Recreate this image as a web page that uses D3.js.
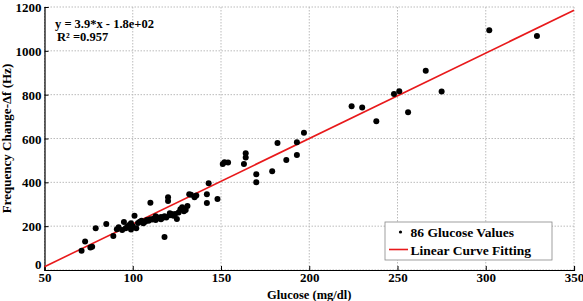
<!DOCTYPE html>
<html><head><meta charset="utf-8">
<script src="https://cdn.jsdelivr.net/npm/d3@7"></script>
<style>body{margin:0;background:#fff;}svg{display:block;}text{font-family:"Liberation Serif","Times New Roman",serif;font-weight:bold;}</style>
</head><body>
<svg id="c" width="583" height="301"></svg>
<script>
const glucose = [71,73,76,77,79,85,89,91,92,94,95,96,97,98,99,100,101,102,104,106,107,108,109,110,110,111,112,113,114,115,116,117,118,118,119,120,120,121,121,122,123,124,125,126,127,128,129,130,131,132,133,135,142,142,143,148,151,152,154,163,164,164,170,170,179,182,187,193,193,197,224,230,238,248,251,256,266,275,302,329,103,105,113,116,136,99];
const freq = [88,130,103,106,190,210,155,186,195,182,219,190,198,205,213,200,247,190,220,213,220,228,225,307,232,230,235,228,240,236,242,238,151,245,240,332,315,259,250,256,247,256,233,262,277,286,268,274,292,346,343,332,346,306,396,324,484,492,490,484,533,513,437,400,451,580,502,583,525,626,747,741,679,803,816,720,909,814,1094,1068,215,225,245,232,340,185];
const xTicks = [50,100,150,200,250,300,350];
const yTicks = [0,200,400,600,800,1000,1200];
const fitSlope = 3.9, fitIntercept = -180;
const eqText = "y = 3.9*x - 1.8e+02";
const r2Text = "R\u00B2 =0.957";
const legendLabels = ["86 Glucose Values","Linear Curve Fitting"];

const svg = d3.select("#c");
const L=44.5, R=574, T=7, B=270;
const x = d3.scaleLinear().domain([50,350]).range([L,R]);
const y = d3.scaleLinear().domain([0,1200]).range([B,T]);

// grid
const g = svg.append("g");
g.selectAll(".vx").data(xTicks).enter().append("line")
  .attr("x1",d=>x(d)).attr("x2",d=>x(d)).attr("y1",T).attr("y2",B)
  .attr("stroke","#bbb").attr("stroke-width",1).attr("stroke-dasharray","1.5,1.5");
g.selectAll(".hy").data(yTicks).enter().append("line")
  .attr("y1",d=>y(d)).attr("y2",d=>y(d)).attr("x1",L).attr("x2",R)
  .attr("stroke","#bbb").attr("stroke-width",1).attr("stroke-dasharray","1.5,1.5");

// axes
const xAxis = d3.axisBottom(x).tickValues(xTicks).tickSize(-4).tickPadding(4).tickFormat(d3.format("d"));
const yAxis = d3.axisLeft(y).tickValues(yTicks).tickSize(-4).tickPadding(3).tickFormat(d3.format("d"));
const ax = svg.append("g").attr("transform",`translate(0,${B})`).call(xAxis);
const ay = svg.append("g").attr("transform",`translate(${L},0)`).call(yAxis);
[ax,ay].forEach(a=>{
  a.select(".domain").attr("stroke","#000").attr("stroke-width",1.2);
  a.selectAll("text").attr("font-size",13).attr("font-family","Liberation Serif").attr("font-weight","bold").attr("fill","#000");
  a.selectAll(".tick line").attr("stroke","#000");
});
ay.selectAll(".tick text").attr("dy",d=>d===0?"-0.12em":"0.35em");
ax.selectAll(".tick text").attr("dy","0.62em");

// fit line
svg.append("line")
  .attr("x1",x(50)).attr("y1",y(fitSlope*50+fitIntercept))
  .attr("x2",x(350)).attr("y2",y(fitSlope*350+fitIntercept))
  .attr("stroke","#e8191b").attr("stroke-width",1.6);

// points
svg.append("g").selectAll("circle").data(glucose.map((v,i)=>[v,freq[i]])).enter().append("circle")
  .attr("cx",d=>x(d[0])).attr("cy",d=>y(d[1])).attr("r",3).attr("fill","#000");

// equation
svg.append("text").attr("x",55).attr("y",28).attr("font-size",12.5).text(eqText);
svg.append("text").attr("x",57).attr("y",40.5).attr("font-size",12.5).text(r2Text);

// axis labels
svg.append("text").attr("x",(L+R)/2).attr("y",299).attr("text-anchor","middle").attr("font-size",12.5).text("Glucose (mg/dl)");
svg.append("text").attr("transform",`translate(11,${(T+B)/2}) rotate(-90)`).attr("text-anchor","middle").attr("font-size",13).text("Frequency Change-\u0394f (Hz)");

// legend
const lg = svg.append("g");
lg.append("rect").attr("x",385).attr("y",222).attr("width",167).attr("height",38).attr("fill","#fff").attr("stroke","#888").attr("stroke-width",0.8);
lg.append("circle").attr("cx",400.5).attr("cy",232).attr("r",1.6).attr("fill","#000");
lg.append("line").attr("x1",389).attr("x2",408).attr("y1",249.5).attr("y2",249.5).attr("stroke","#e8191b").attr("stroke-width",1.6);
lg.append("text").attr("x",410.5).attr("y",237).attr("font-size",13.5).text(legendLabels[0]);
lg.append("text").attr("x",410.5).attr("y",255).attr("font-size",13.5).text(legendLabels[1]);
</script>
</body></html>
